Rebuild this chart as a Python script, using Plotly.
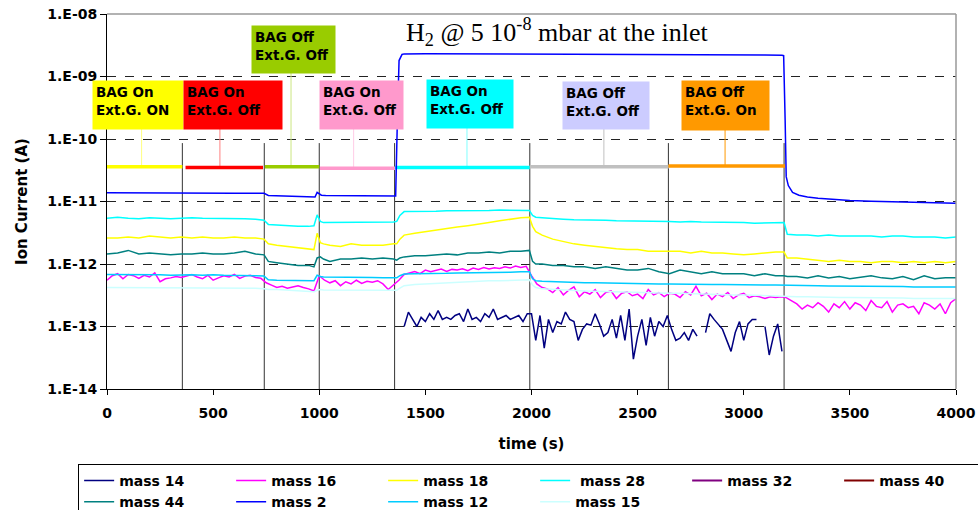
import plotly.graph_objects as go

UNIT = 1e-13  # all series below are in units of 1e-13 A

t_main = [0, 50, 100, 150, 200, 250, 300, 350, 400, 450, 500, 550, 600, 650, 700,
          740, 760, 800, 850, 900, 950, 975, 990, 1005, 1020,
          1050, 1100, 1150, 1200, 1250, 1300, 1350, 1365, 1380, 1400,
          1450, 1500, 1550, 1600, 1650, 1700, 1750, 1800, 1850, 1900, 1950,
          1990, 2005, 2020,
          2050, 2100, 2150, 2200, 2250, 2300, 2350, 2400, 2450, 2500, 2550, 2600,
          2650, 2700, 2750, 2800, 2850, 2900, 2950, 3000, 3050, 3100, 3150,
          3190, 3205,
          3250, 3300, 3350, 3400, 3450, 3500, 3550, 3600, 3650, 3700, 3750, 3800,
          3850, 3900, 3950, 4000]

mass28 = [54, 56, 54, 53, 55, 54, 53, 54, 55, 54, 54, 53, 54, 53, 52,
          50, 43, 42, 41, 40, 40, 41, 61, 48, 46,
          46, 47, 46, 47, 46, 47, 47, 48, 60, 69,
          69, 70, 70, 71, 71, 72, 72, 72, 73, 73, 73,
          72, 60, 56,
          55, 53, 52, 51, 51, 50, 50, 49, 49, 49, 48, 48, 48, 47, 48, 47, 47, 46, 46, 46, 45, 45, 46,
          46, 30,
          29, 29, 28, 29, 28, 28, 28, 28, 27, 28, 28, 27, 27, 27, 26, 27]

mass18 = [26, 26, 27, 26, 28, 27, 26, 27, 26, 27, 26, 26, 27, 26, 26,
          25, 21, 20, 19, 18, 17, 17, 31, 22, 21,
          20, 19, 21, 20, 20, 20, 21, 21, 25, 29,
          31, 33, 35, 37, 39, 41, 43, 46, 49, 52, 55,
          56, 40, 33,
          29, 25, 23, 21, 20, 19, 18, 17.5, 17, 17, 16, 16, 16, 16, 15, 16, 15, 15, 14.5, 14, 14.5, 15, 15.5,
          15.5, 12.5,
          12.5, 12, 11.5, 11, 11.5, 11, 11, 10.5, 11, 11, 10.5, 11, 10.5, 11, 10.5, 11]

mass44 = [14.5, 15, 16.5, 14.5, 15, 14.5, 14, 14.5, 14.5, 15, 14.5, 14.5, 15, 16, 14.5,
          14, 11, 10.5, 10, 9.5, 9.5, 9, 12.5, 13, 12,
          11, 12, 12, 12.5, 12, 12.5, 12, 11.5, 12.5, 13,
          13.5, 13.5, 14, 14.5, 14, 15, 15, 15.5, 15, 16, 16,
          16.5, 11, 10,
          10, 9.5, 9.5, 9, 9, 8.5, 9, 8.5, 8, 8, 8.5, 7.5, 7, 8, 7.5, 7, 7.5, 7, 7, 7, 6.5, 7, 6.5,
          6.5, 6.3,
          6.3, 6, 6.5, 6, 6.3, 5.8, 6.2, 6.5, 6, 5.8, 6.3, 5.6, 6.5, 5.8, 6, 6]

mass12 = [6.8, 6.8, 6.7, 6.8, 6.7, 6.7, 6.6, 6.7, 6.7, 6.6, 6.7, 6.6, 6.6, 6.6, 6.5,
          6.4, 5.6, 5.5, 5.5, 5.4, 5.4, 5.4, 6.6, 6.3, 6.2,
          6.2, 6.2, 6.1, 6.1, 6.1, 6.0, 6.0, 6.0, 6.5, 6.9,
          7.0, 7.0, 7.1, 7.1, 7.2, 7.2, 7.3, 7.3, 7.4, 7.4, 7.5,
          7.5, 5.8, 5.4,
          5.3, 5.2, 5.1, 5.1, 5.0, 5.0, 4.95, 4.9, 4.9, 4.85, 4.85, 4.8, 4.8, 4.75, 4.75, 4.7, 4.7, 4.7,
          4.65, 4.65, 4.6, 4.6, 4.6,
          4.6, 4.5,
          4.5, 4.5, 4.5, 4.45, 4.45, 4.4, 4.4, 4.4, 4.35, 4.35, 4.35, 4.3, 4.3, 4.3, 4.3, 4.3]

mass15 = [4.2, 4.2, 4.2, 4.1, 4.2, 4.2, 4.1, 4.2, 4.2, 4.2, 4.1, 4.2, 4.2, 4.1, 4.1,
          4.0, 3.9, 3.9, 3.8, 3.8, 3.7, 3.6, 3.8, 3.9, 3.85,
          3.85, 3.8, 3.8, 3.85, 3.8, 3.8, 3.8, 3.8, 4.1, 4.5,
          4.7, 4.8, 4.9, 5.0, 5.1, 5.2, 5.3, 5.4, 5.4, 5.5, 5.6,
          5.6, 4.6, 4.2,
          4.0, 3.9, 3.8, 3.75, 3.7, 3.65, 3.6, 3.55, 3.5, 3.5, 3.45, 3.45, 3.4, 3.4, 3.35, 3.3, 3.3, 3.25,
          3.2, 3.2, 3.15, 3.1, 3.1,
          3.05, 3.05,
          3.0, 3.0, 2.95, 2.95, 2.9, 2.9, 2.9, 2.9, 2.85, 2.85, 2.85, 2.8, 2.8, 2.8, 2.8, 2.8]

t_mass2 = [0, 100, 200, 300, 400, 500, 600, 700,
           740, 760, 800, 900, 950, 980, 990, 1000, 1010, 1030,
           1100, 1200, 1300, 1360, 1368, 1376, 1390, 1400,
           1500, 1700, 2000, 2300, 2600, 2900, 3100, 3180,
           3188, 3195, 3200, 3210, 3230, 3260, 3300, 3350, 3400,
           3500, 3600, 3700, 3800, 3900, 4000]
mass2 = [138, 137, 138, 137, 136, 136, 136, 136,
         135, 125, 124, 122, 120, 118, 140, 133, 126, 125,
         125, 124, 124, 123, 2000, 18000, 22500, 23000,
         23200, 23100, 22800, 22600, 22400, 22200, 22000, 21800,
         21500, 2000, 250, 180, 140, 126, 118, 113, 109,
         104, 101, 99, 97, 96, 94]

t_mass16 = list(range(0, 4001, 25))
mass16 = [5.5, 6.5, 7.0, 5.8, 6.8, 6.5, 5.9, 6.6, 6.2, 7.2, 5.2, 5.8, 6.0, 6.3, 6.1,
          6.4, 6.8, 6.2, 5.8, 6.6, 5.5, 6.0, 6.5, 6.2, 6.8, 5.9, 6.4, 6.6, 6.1, 5.9,
          5.0, 4.6, 4.2, 4.4, 4.1, 4.3, 4.5, 4.2, 4.0, 3.7,
          6.5, 5.5, 5.0, 5.4, 4.5, 5.2, 4.8, 5.5, 4.9, 5.3, 5.1, 5.4, 4.8, 3.9, 4.6,
          5.5, 6.8, 7.2, 7.6, 7.0, 8.0, 7.5, 7.9, 8.3, 7.6, 8.2, 8.0, 8.4, 7.8, 8.6,
          8.2, 8.8, 8.3, 8.7, 8.5, 9.0, 8.6, 9.3, 8.8, 9.2,
          6.5, 4.8, 4.2, 4.0, 3.5, 4.2, 3.2, 3.8, 4.3, 3.0, 3.6, 3.3, 3.9, 2.9, 3.5,
          3.7, 2.8, 3.4, 3.6, 3.1, 3.3, 2.8, 3.9, 3.2, 3.5, 3.0, 3.4, 3.3, 2.9, 3.6,
          3.2, 4.4, 3.1, 3.4, 2.7, 3.3, 3.0, 3.5, 2.8, 3.2, 3.4, 2.9, 3.1, 3.0, 2.8,
          3.0, 2.9, 3.0,
          2.9, 2.6, 2.3, 1.9, 2.2, 2.0, 2.4, 2.1, 1.7, 2.3, 2.0, 2.5, 1.9, 2.4, 2.2,
          1.8, 2.6, 2.1, 2.0, 2.5, 1.7, 2.2, 2.3, 2.0, 2.1, 1.6, 2.4, 2.2, 1.9, 2.3,
          1.6, 2.4, 2.8]

t_mass14 = list(range(1400, 3181, 20))
mass14 = [1.0, 1.7, 1.3, 1.0, 1.4, 1.2, 1.6, 1.3, 1.8, 1.3, 1.4, 1.3, 1.5, 1.6, 1.2,
          1.9, 1.3, 1.4, 1.2, 1.6, 1.4, 1.9, 1.3, 1.4, 1.5, 1.3, 1.4, 1.5, 1.2, 1.6,
          1.6, 0.6, 1.5, 0.45, 1.3, 0.8, 1.2, 1.1, 1.7, 1.3, 1.2, 0.6, 0.9, 1.1, 1.05,
          1.6, 1.1, 0.7, 0.8, 1.3, 0.65, 1.5, 0.6, 1.9, 0.3, 0.7, 1.3, 0.5, 1.4, 0.7,
          1.2, 1.0, 1.5, 0.9, 0.6, 0.65, 0.8, 0.6, 0.9, 0.7, None, 0.8, 1.6, 1.3, 1.1,
          0.9, 0.6, 0.4, 0.8, 1.2, 0.6, 1.1, 1.3, 1.3, None, 1.0, 0.35, 0.7, 1.1, 0.4]

tick_vals = [1e-14, 1e-13, 1e-12, 1e-11, 1e-10, 1e-9, 1e-8]
tick_text = ["1.E-14", "1.E-13", "1.E-12", "1.E-11", "1.E-10", "1.E-09", "1.E-08"]
x_ticks = [0, 500, 1000, 1500, 2000, 2500, 3000, 3500, 4000]

# experimental phases
phase_edges = [355, 741, 1000, 1355, 1992, 2645, 3190]
phase_labels = ["BAG On<br>Ext.G. ON", "BAG On<br>Ext.G. Off", "BAG Off<br>Ext.G. Off",
                "BAG On<br>Ext.G. Off", "BAG On<br>Ext.G. Off", "BAG Off<br>Ext.G. Off",
                "BAG Off<br>Ext.G. On"]
phase_start = [0, 370, 744, 1003, 1357, 1992, 2645]
phase_end = [355, 735, 1000, 1357, 1992, 2647, 3195]
phase_level = [3.6e-11, 3.5e-11, 3.6e-11, 3.4e-11, 3.5e-11, 3.6e-11, 3.7e-11]
phase_pin = [163, 532, 867, 1162, 1696, 2341, 2912]

# styles / layout for phase boxes (left edge in axis time units, top in paper units)
seg_colors = ["#FFFF00", "#FF0000", "#99CC00", "#FF99CC", "#00FFFF", "#C0C0C0", "#FF9900"]
box_colors = ["#FFFF00", "#FF0000", "#99CC00", "#FF99CC", "#00FFFF", "#CCCCFF", "#FF9900"]
pin_colors = ["#FFFF80", "#FF8080", "#CCE680", "#FFCCE6", "#80FFFF", "#C0C0C0", "#FF9900"]
box_left = [-71, 358, 678, 999, 1503, 2144, 2704]
box_top = [0.824, 0.824, 0.971, 0.824, 0.827, 0.821, 0.824]
box_w = [90, 98, 83, 83, 86, 86, 87]
box_h = [48, 48, 47, 48, 48, 47, 49]

X_RANGE = (0, 4000)
Y_RANGE = (-14, -8)
EDGE_TOP = 8.6e-11
PLOT_H = 375.0

FONT = "DejaVu Sans"
BOLD = dict(family=FONT, size=14, color="black", weight="bold")

fig = go.Figure()

# vertical phase separators
for t in phase_edges:
    fig.add_trace(go.Scatter(x=[t, t], y=[10 ** Y_RANGE[0], EDGE_TOP], mode="lines",
                             line=dict(color="#333333", width=1), showlegend=False,
                             hoverinfo="skip"))

# phase level bars and pins
for i in range(len(phase_start)):
    bottom_paper = box_top[i] - box_h[i] / PLOT_H
    pin_top = 10 ** (Y_RANGE[0] + (Y_RANGE[1] - Y_RANGE[0]) * bottom_paper)
    fig.add_trace(go.Scatter(x=[phase_pin[i], phase_pin[i]], y=[phase_level[i], pin_top],
                             mode="lines", line=dict(color=pin_colors[i], width=1),
                             showlegend=False, hoverinfo="skip"))
    fig.add_trace(go.Scatter(x=[phase_start[i], phase_end[i]], y=[phase_level[i]] * 2,
                             mode="lines", line=dict(color=seg_colors[i], width=3.5),
                             showlegend=False, hoverinfo="skip"))


def scaled(vals):
    return [None if v is None else v * UNIT for v in vals]


series = [
    ("mass 14", t_mass14, mass14, "#000080"),
    ("mass 16", t_mass16, mass16, "#FF00FF"),
    ("mass 18", t_main, mass18, "#FFFF00"),
    (" mass 28", t_main, mass28, "#00FFFF"),
    ("mass 32", [], [], "#800080"),
    ("mass 40", [], [], "#800000"),
    ("mass 44", t_main, mass44, "#008080"),
    ("mass 2", t_mass2, mass2, "#0000FF"),
    ("mass 12", t_main, mass12, "#00CCFF"),
    ("mass 15", t_main, mass15, "#CCFFFF"),
]
for name, tx, vals, col in series:
    if len(vals) == 0:
        fig.add_trace(go.Scatter(x=[None], y=[None], name=name, mode="lines",
                                 line=dict(color=col, width=2)))
    else:
        fig.add_trace(go.Scatter(x=tx, y=scaled(vals), name=name, mode="lines",
                                 line=dict(color=col, width=1.5), connectgaps=False))

annotations = []
for i in range(len(phase_labels)):
    annotations.append(dict(
        x=(box_left[i] - X_RANGE[0]) / (X_RANGE[1] - X_RANGE[0]), xref="paper", xanchor="left",
        y=box_top[i], yref="paper", yanchor="top",
        text=phase_labels[i], showarrow=False, align="left", valign="top",
        width=box_w[i] - 6, height=box_h[i] - 6, borderpad=3,
        bgcolor=box_colors[i],
        font=dict(family=FONT, size=13.5, color="black", weight="bold")))

annotations.append(dict(
    x=1400 / X_RANGE[1], xref="paper", xanchor="left", y=0.952, yref="paper", yanchor="middle",
    text="H<sub>2</sub> @ 5 10<sup>-8</sup> mbar at the inlet", showarrow=False,
    font=dict(family="Liberation Serif", size=26, color="black")))

fig.update_layout(
    width=978, height=510,
    margin=dict(l=107, r=22, t=14, b=121, autoexpand=False),
    plot_bgcolor="white", paper_bgcolor="white",
    font=dict(family=FONT, color="black"),
    annotations=annotations,
    xaxis=dict(range=list(X_RANGE), tickvals=x_ticks,
               showgrid=False, zeroline=False, showline=True, linecolor="black", linewidth=1,
               ticks="outside", ticklen=5, tickcolor="black", tickfont=BOLD,
               ticklabelstandoff=6, automargin=False,
               title=dict(text="time (s)", font=dict(family=FONT, size=15, color="black",
                                                     weight="bold"), standoff=18)),
    yaxis=dict(type="log", range=list(Y_RANGE), tickvals=tick_vals, ticktext=tick_text,
               showgrid=True, gridcolor="#222222", griddash="dash", gridwidth=1,
               zeroline=False, showline=True, linecolor="black", linewidth=1,
               ticks="outside", ticklen=6, tickcolor="black", tickfont=BOLD,
               automargin=False,
               title=dict(text="Ion Current (A)", font=dict(family=FONT, size=15,
                                                            color="black", weight="bold"),
                          standoff=16)),
    legend=dict(orientation="h", x=-0.034, y=-0.2, xanchor="left", yanchor="top",
                entrywidth=107, entrywidthmode="pixels", bordercolor="black", borderwidth=1,
                font=BOLD, itemwidth=30, tracegroupgap=0, bgcolor="white"),
    shapes=[
        dict(type="line", xref="paper", yref="paper", x0=0, x1=1, y0=1, y1=1,
             line=dict(color="#999999", width=1.5)),
        dict(type="line", xref="paper", yref="paper", x0=1, x1=1, y0=0, y1=1,
             line=dict(color="#999999", width=1.5)),
    ],
)

fig.write_html("out.html", config={"displayModeBar": False},
               post_script="document.body.style.margin='0';document.body.style.overflow='hidden';")
